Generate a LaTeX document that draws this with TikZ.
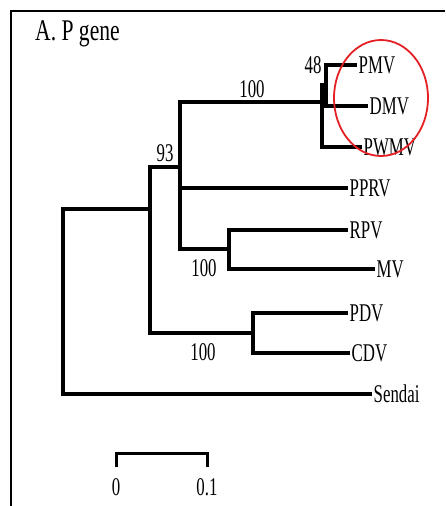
\documentclass[tikz,border=0pt]{standalone}
\usepackage{fontspec}
\setmainfont{Liberation Serif}
\newfontfamily\treefont{Liberation Serif}[FakeStretch=0.66]
\newfontfamily\titlefont{Liberation Serif}[FakeStretch=0.72]
\usetikzlibrary{positioning}
\definecolor{ringred}{RGB}{228,32,36}

\tikzset{
  branch/.style={line width=3.4pt},
  taxon/.style={anchor=west, inner sep=1.5pt, font=\treefont\fontsize{25.5}{25.5}\selectfont},
  boot/.style={inner sep=0pt, font=\treefont\fontsize{25.5}{25.5}\selectfont},
}

\begin{document}
\begin{tikzpicture}[x=1pt,y=-1pt]
  \useasboundingbox (0,0) rectangle (445,506);
  % frame and title
  \draw[line width=1.3pt] (11,506) -- (11,11) -- (445,11);
  \node[anchor=west, inner sep=0pt, font=\titlefont\fontsize{30}{30}\selectfont] (title) at (35,34) {A. P gene};

  % inner nodes of the tree
  \coordinate (root)   at (63,301);
  \coordinate (n93)    at (150,209);
  \coordinate (n100a)  at (180,167);
  \coordinate (nmorbi) at (322,102);
  \coordinate (n48)    at (326,85);
  \coordinate (nrpv)   at (229,249);
  \coordinate (npdv)   at (253,333);

  % taxa
  \node[taxon] (pmv)    at (357,65)  {PMV};
  \node[taxon] (dmv)    at (368,106) {DMV};
  \node[taxon] (pwmv)   at (362,147) {PWMV};
  \node[taxon] (pprv)   at (348,188) {PPRV};
  \node[taxon] (rpv)    at (348,230) {RPV};
  \node[taxon] (mv)     at (375,269) {MV};
  \node[taxon] (pdv)    at (348,313) {PDV};
  \node[taxon] (cdv)    at (350,353) {CDV};
  \node[taxon] (sendai) at (372,394) {Sendai};

  % branches
  \draw[branch] (root) |- (n93);
  \draw[branch] (root) |- (sendai.west);
  \draw[branch] (n93) |- (n100a);
  \draw[branch] (n93) |- (npdv);
  \draw[branch] (n100a) |- (nmorbi);
  \draw[branch] (n100a) |- (pprv.west);
  \draw[branch] (n100a) |- (nrpv);
  \draw[branch] (nmorbi) |- (n48);
  \draw[branch] (nmorbi) |- (pwmv.west);
  \draw[branch] (n48) |- (pmv.west);
  \draw[branch] (n48) |- (dmv.west);
  \draw[branch] (nrpv) |- (rpv.west);
  \draw[branch] (nrpv) |- (mv.west);
  \draw[branch] (npdv) |- (pdv.west);
  \draw[branch] (npdv) |- (cdv.west);

  % bootstrap values
  \node[boot] (b93)   at (165,153) {93};
  \node[boot] (b100a) at (252,89)  {100};
  \node[boot] (b48)   at (313,65)  {48};
  \node[boot] (b100b) at (204,268) {100};
  \node[boot] (b100c) at (203,352) {100};

  % scale bar
  \coordinate (s0)  at (116,453);
  \coordinate (s1)  at (207,453);
  \coordinate (s0t) at (116,467);
  \coordinate (s1t) at (207,467);
  \draw[line width=3pt] (s0t) -- (s0) -- (s1) -- (s1t);
  \node[boot, below=11pt of s0t] (l0) {0};
  \node[boot, below=11pt of s1t] (l1) {0.1};

  % highlight ring
  \draw[ringred, line width=1.8pt] (381,98) ellipse (47 and 58);
\end{tikzpicture}
\end{document}
